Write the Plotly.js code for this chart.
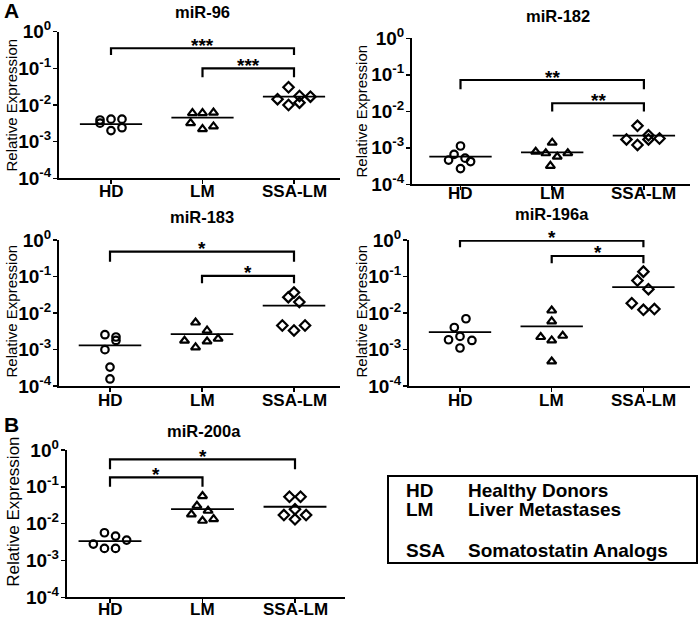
<!DOCTYPE html>
<html>
<head>
<meta charset="utf-8">
<script src="https://cdn.plot.ly/plotly-3.0.1.min.js"></script>
<style>html,body{margin:0;padding:0;background:#fff;}#chart{width:700px;height:618px;}</style>
</head>
<body>
<div id="chart"></div>
<script>
// ---------------- DATA ----------------
const groups = ['HD', 'LM', 'SSA-LM'];
const panelTitles = ['miR-96', 'miR-182', 'miR-183', 'miR-196a', 'miR-200a'];
const yTickVals = [1e-4, 1e-3, 1e-2, 1e-1, 1];
const yTickExp = ['-4', '-3', '-2', '-1', '0'];

// miR-96
const mir96_HD = [0.0039, 0.0032, 0.0041, 0.0020, 0.0041, 0.0024];
const mir96_LM = [0.0060, 0.0060, 0.0062, 0.0032, 0.0022, 0.0026];
const mir96_SSA = [0.0305, 0.0144, 0.0100, 0.0177, 0.0116, 0.0169];
const mir96_jitHD = [-0.12, -0.12, 0, 0, 0.12, 0.12];
const mir96_jitLM = [-0.11, 0, 0.12, -0.13, 0, 0.12];
const mir96_jitSSA = [-0.06, -0.18, -0.06, 0.06, 0.06, 0.18];
const mir96_means = [0.0030, 0.0045, 0.0169];
const mir96_brFrom = [0, 1], mir96_brTo = [2, 2];
const mir96_brTop = [0.354, 0.10], mir96_brFoot = [0.23, 0.057];
const mir96_brLabel = ['***', '***'];

// miR-182
const mir182_HD = [0.00112, 0.00066, 0.00046, 0.00052, 0.00042, 0.00027];
const mir182_LM = [0.00138, 0.00078, 0.00071, 0.00057, 0.00071, 0.00032];
const mir182_SSA = [0.0040, 0.0017, 0.0012, 0.0022, 0.0017, 0.0018];
const mir182_jitHD = [0, -0.07, -0.13, 0.05, 0.11, 0];
const mir182_jitLM = [0, -0.18, -0.07, 0.055, 0.17, -0.02];
const mir182_jitSSA = [-0.07, -0.19, -0.07, 0.05, 0.05, 0.17];
const mir182_means = [0.00057, 0.00075, 0.00215];
const mir182_brFrom = [0, 1], mir182_brTo = [2, 2];
const mir182_brTop = [0.072, 0.0166], mir182_brFoot = [0.040, 0.0098];
const mir182_brLabel = ['**', '**'];

// miR-183
const mir183_HD = [0.00254, 0.0022, 0.00177, 0.00099, 0.00033, 0.000156];
const mir183_LM = [0.0055, 0.0033, 0.00174, 0.00114, 0.00166, 0.00197];
const mir183_SSA = [0.0363, 0.0272, 0.0199, 0.00455, 0.00333, 0.00455];
const mir183_jitHD = [-0.055, 0.065, 0.065, -0.055, 0, 0];
const mir183_jitLM = [-0.07, 0.055, -0.19, -0.07, 0.055, 0.175];
const mir183_jitSSA = [0, -0.062, 0.058, -0.127, 0, 0.12];
const mir183_means = [0.0013, 0.00265, 0.016];
const mir183_brFrom = [0, 1], mir183_brTo = [2, 2];
const mir183_brTop = [0.48, 0.104], mir183_brFoot = [0.255, 0.0655];
const mir183_brLabel = ['*', '*'];

// miR-196a
const mir196a_HD = [0.00695, 0.0040, 0.00228, 0.00185, 0.00177, 0.0011];
const mir196a_LM = [0.0117, 0.0059, 0.0022, 0.00177, 0.00238, 0.00047];
const mir196a_SSA = [0.136, 0.0773, 0.045, 0.0186, 0.0122, 0.0128];
const mir196a_jitHD = [0.065, -0.062, 0, -0.125, 0.13, 0];
const mir196a_jitLM = [0, 0, -0.12, 0, 0.12, 0];
const mir196a_jitSSA = [0, -0.065, 0.055, -0.127, 0, 0.12];
const mir196a_means = [0.0030, 0.0043, 0.051];
const mir196a_brFrom = [0, 1], mir196a_brTo = [2, 2];
const mir196a_brTop = [0.957, 0.365], mir196a_brFoot = [0.63, 0.23];
const mir196a_brLabel = ['*', '*'];

// miR-200a
const mir200a_HD = [0.00566, 0.0046, 0.00358, 0.00279, 0.00213, 0.00213];
const mir200a_LM = [0.0562, 0.0306, 0.0224, 0.0179, 0.0120, 0.0133];
const mir200a_SSA = [0.0538, 0.0538, 0.0245, 0.0171, 0.0131, 0.0171];
const mir200a_jitHD = [-0.06, 0.06, 0.18, -0.18, -0.06, 0.06];
const mir200a_jitLM = [0, -0.06, 0.06, -0.12, 0, 0.12];
const mir200a_jitSSA = [-0.06, 0.06, 0, -0.12, 0, 0.12];
const mir200a_means = [0.00337, 0.0249, 0.0288];
const mir200a_brFrom = [0, 0], mir200a_brTo = [2, 1];
const mir200a_brTop = [0.558, 0.181], mir200a_brFoot = [0.299, 0.10];
const mir200a_brLabel = ['*', '*'];

const legendAbbr = ['HD', 'LM', 'SSA'];
const legendText = ['Healthy Donors', 'Liver Metastases', 'Somatostatin Analogs'];

// ---------------- LAYOUT GEOMETRY ----------------
const W = 700, H = 618;
const FONT = 'Liberation Sans, Arial, Helvetica, sans-serif';
const symbols = ['circle-open', 'triangle-up-open', 'diamond-open'];
const symSizes = [7.5, 8, 8];

const panelData = [
  {vals: [mir96_HD, mir96_LM, mir96_SSA], jit: [mir96_jitHD, mir96_jitLM, mir96_jitSSA], means: mir96_means,
   br: [mir96_brFrom, mir96_brTo, mir96_brTop, mir96_brFoot, mir96_brLabel]},
  {vals: [mir182_HD, mir182_LM, mir182_SSA], jit: [mir182_jitHD, mir182_jitLM, mir182_jitSSA], means: mir182_means,
   br: [mir182_brFrom, mir182_brTo, mir182_brTop, mir182_brFoot, mir182_brLabel]},
  {vals: [mir183_HD, mir183_LM, mir183_SSA], jit: [mir183_jitHD, mir183_jitLM, mir183_jitSSA], means: mir183_means,
   br: [mir183_brFrom, mir183_brTo, mir183_brTop, mir183_brFoot, mir183_brLabel]},
  {vals: [mir196a_HD, mir196a_LM, mir196a_SSA], jit: [mir196a_jitHD, mir196a_jitLM, mir196a_jitSSA], means: mir196a_means,
   br: [mir196a_brFrom, mir196a_brTo, mir196a_brTop, mir196a_brFoot, mir196a_brLabel]},
  {vals: [mir200a_HD, mir200a_LM, mir200a_SSA], jit: [mir200a_jitHD, mir200a_jitLM, mir200a_jitSSA], means: mir200a_means,
   br: [mir200a_brFrom, mir200a_brTo, mir200a_brTop, mir200a_brFoot, mir200a_brLabel]}
];

// pixel boxes of each plot area, x of first category and category step (px)
const geom = [
  {l: 59, r: 340, t: 31.7, b: 178.3, x0: 111, step: 91.5, tx: 202, ty: 11.5, yx: 10.5, yy: 105, yfs: 15, ly: 192},
  {l: 412, r: 690, t: 38.3, b: 184.3, x0: 460.5, step: 91.7, tx: 558, ty: 16.5, yx: 360.5, yy: 111, yfs: 15, ly: 193},
  {l: 59, r: 340, t: 240, b: 386, x0: 110, step: 92, tx: 202, ty: 217, yx: 10.5, yy: 311, yfs: 15, ly: 400},
  {l: 409, r: 690, t: 240, b: 386, x0: 460, step: 91.7, tx: 552, ty: 214, yx: 360.5, yy: 311, yfs: 15, ly: 400},
  {l: 66.7, r: 345, t: 450, b: 597.3, x0: 110, step: 92.5, tx: 204, ty: 431.5, yx: 12.7, yy: 512, yfs: 17, ly: 609}
];

const traces = [];
const annotations = [];
const layout = {
  width: W, height: H,
  margin: {l: 0, r: 0, t: 0, b: 0},
  paper_bgcolor: '#fff', plot_bgcolor: '#fff',
  showlegend: false,
  font: {family: FONT, color: '#000'},
  annotations: annotations,
  shapes: []
};

panelData.forEach((p, k) => {
  const g = geom[k];
  const n = k + 1;
  const xa = 'x' + (n === 1 ? '' : n), ya = 'y' + (n === 1 ? '' : n);
  const xKey = 'xaxis' + (n === 1 ? '' : n), yKey = 'yaxis' + (n === 1 ? '' : n);

  layout[xKey] = {
    domain: [g.l / W, g.r / W], anchor: ya,
    range: [(g.l - g.x0) / g.step, (g.r - g.x0) / g.step],
    tickmode: 'array', tickvals: [0, 1, 2], showticklabels: false,
    ticks: 'outside', ticklen: 4, tickwidth: 1.5, tickcolor: '#000',
    showline: true, linewidth: 2, linecolor: '#000',
    showgrid: false, zeroline: false, fixedrange: true
  };
  layout[yKey] = {
    domain: [1 - g.b / H, 1 - g.t / H], anchor: xa,
    type: 'log', range: [-4, 0],
    tickmode: 'array', tickvals: yTickVals,
    ticktext: yTickExp.map(e => '<b>10<sup>' + e + '</sup></b>'),
    ticks: 'outside', ticklen: 4, tickwidth: 1.5, tickcolor: '#000',
    ticklabelstandoff: -2,
    showline: true, linewidth: 2, linecolor: '#000',
    showgrid: false, zeroline: false, fixedrange: true,
    tickfont: {family: FONT, size: 19, weight: 'bold', color: '#000'}
  };

  // category labels placed on the x axis scale
  groups.forEach((name, gi) => {
    annotations.push({xref: xa, yref: 'paper', x: gi, y: 1 - g.ly / H,
      text: '<b>' + name + '</b>', showarrow: false, xanchor: 'center', yanchor: 'middle',
      font: {family: FONT, size: 17, weight: 'bold', color: '#000'}});
  });

  // data points
  p.vals.forEach((vals, gi) => {
    traces.push({
      type: 'scatter', mode: 'markers', xaxis: xa, yaxis: ya,
      x: vals.map((v, i) => gi + p.jit[gi][i]), y: vals,
      cliponaxis: false,
      marker: {symbol: symbols[gi], size: symSizes[gi], color: '#000', line: {width: 2.2, color: '#000'}},
      hoverinfo: 'y'
    });
  });

  // mean lines
  const mx = [], my = [];
  p.means.forEach((m, gi) => { mx.push(gi - 0.34, gi + 0.34, null); my.push(m, m, null); });
  traces.push({type: 'scatter', mode: 'lines', xaxis: xa, yaxis: ya, x: mx, y: my,
    line: {color: '#000', width: 1.8}, hoverinfo: 'skip'});

  // significance brackets
  const [from, to, top, foot, lab] = p.br;
  const bx = [], by = [];
  from.forEach((f, i) => {
    bx.push(f, f, to[i], to[i], null);
    by.push(foot[i], top[i], top[i], foot[i], null);
    annotations.push({
      xref: xa, yref: ya, x: (f + to[i]) / 2, y: Math.log10(top[i]),
      text: '<b>' + lab[i] + '</b>', showarrow: false, xanchor: 'center', yanchor: 'middle', yshift: 3,
      font: {family: FONT, size: 19, weight: 'bold', color: '#000'}
    });
  });
  traces.push({type: 'scatter', mode: 'lines', xaxis: xa, yaxis: ya, x: bx, y: by,
    line: {color: '#000', width: 2.2}, hoverinfo: 'skip'});

  // panel title
  annotations.push({xref: 'paper', yref: 'paper', x: g.tx / W, y: 1 - g.ty / H,
    text: '<b>' + panelTitles[k] + '</b>', showarrow: false, xanchor: 'center', yanchor: 'middle',
    font: {family: FONT, size: 16.5, weight: 'bold', color: '#000'}});
  // y title
  annotations.push({xref: 'paper', yref: 'paper', x: g.yx / W, y: 1 - g.yy / H,
    text: 'Relative Expression', textangle: -90, showarrow: false, xanchor: 'center', yanchor: 'middle',
    font: {family: FONT, size: g.yfs, color: '#000'}});
});

// panel letters
annotations.push({xref: 'paper', yref: 'paper', x: 2 / W, y: 1 - 10 / H, text: '<b>A</b>', showarrow: false,
  xanchor: 'left', yanchor: 'middle', font: {family: FONT, size: 21, weight: 'bold', color: '#000'}});
annotations.push({xref: 'paper', yref: 'paper', x: 2 / W, y: 1 - 424 / H, text: '<b>B</b>', showarrow: false,
  xanchor: 'left', yanchor: 'middle', font: {family: FONT, size: 21, weight: 'bold', color: '#000'}});

// legend box
layout.shapes.push({type: 'rect', xref: 'paper', yref: 'paper',
  x0: 388 / W, x1: 697 / W, y0: 1 - 563 / H, y1: 1 - 476 / H,
  line: {color: '#000', width: 2}, fillcolor: 'rgba(0,0,0,0)'});
const legendRowsY = [490, 509.7, 550.3];
legendAbbr.forEach((a, i) => {
  annotations.push({xref: 'paper', yref: 'paper', x: 404 / W, y: 1 - legendRowsY[i] / H, text: '<b>' + a + '</b>',
    showarrow: false, xanchor: 'left', yanchor: 'middle',
    font: {family: FONT, size: 19, weight: 'bold', color: '#000'}});
  annotations.push({xref: 'paper', yref: 'paper', x: 466 / W, y: 1 - legendRowsY[i] / H, text: '<b>' + legendText[i] + '</b>',
    showarrow: false, xanchor: 'left', yanchor: 'middle',
    font: {family: FONT, size: 19, weight: 'bold', color: '#000'}});
});

Plotly.newPlot('chart', traces, layout, {displayModeBar: false, staticPlot: true});
</script>
</body>
</html>
